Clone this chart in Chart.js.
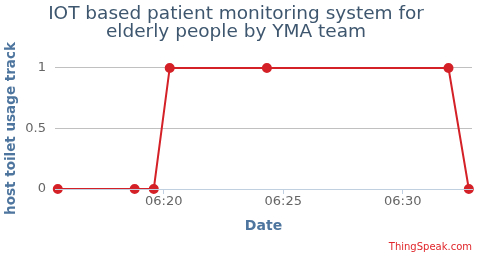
<!DOCTYPE html>
<html>
<head>
<meta charset="utf-8">
<script src="https://cdn.jsdelivr.net/npm/chart.js@4/dist/chart.umd.min.js"></script>
<style>
  html, body { margin: 0; padding: 0; background: #fff; }
  #wrap { position: relative; width: 480px; height: 256px; }
  #credit { position: absolute; right: 8px; top: 241px; font: 10px "DejaVu Sans", sans-serif; color: #e0262b; }
</style>
</head>
<body>
<div id="wrap">
  <canvas id="c" width="480" height="256"></canvas>
  <div id="credit">ThingSpeak.com</div>
</div>
<script>
const titleLines = ["IOT based patient monitoring system for", "elderly people by YMA team"];
const yAxisTitle = "host toilet usage track";
const xAxisTitle = "Date";
const times = ["06:15:34", "06:18:47", "06:19:35", "06:20:15", "06:24:19", "06:31:55", "06:32:46"];
const values = [0, 0, 0, 1, 1, 1, 0];
const xRange = ["06:15:27", "06:32:54"];
const yTicks = [0, 0.5, 1];

function toMin(t) {
  const p = t.split(":").map(Number);
  return p[0] * 60 + p[1] + (p[2] || 0) / 60;
}
function fmt(m) {
  const h = Math.floor(m / 60), mm = Math.round(m % 60);
  return String(h).padStart(2, "0") + ":" + String(mm).padStart(2, "0");
}

const pts = times.map((t, i) => ({ x: toMin(t), y: values[i] }));

new Chart(document.getElementById("c"), {
  type: "line",
  data: {
    datasets: [{
      data: pts,
      borderColor: "#d42027",
      backgroundColor: "#d42027",
      borderWidth: 2,
      pointRadius: 4,
      pointHoverRadius: 4,
      tension: 0,
      clip: false
    }]
  },
  options: {
    responsive: false,
    animation: false,
    layout: { padding: { left: 0, right: 8, top: 0, bottom: 21.6 } },
    plugins: {
      legend: { display: false },
      tooltip: { enabled: false },
      title: {
        display: true,
        text: titleLines,
        color: "#3E576F",
        font: { family: "'DejaVu Sans', sans-serif", size: 18.5, weight: "normal", lineHeight: 0.98 },
        padding: { top: 5.4, bottom: 26.3 }
      }
    },
    scales: {
      x: {
        type: "linear",
        min: toMin(xRange[0]),
        max: toMin(xRange[1]),
        afterBuildTicks: (s) => {
          const t = [];
          for (let v = Math.ceil(s.min / 5) * 5; v <= s.max; v += 5) t.push({ value: v });
          s.ticks = t;
        },
        grid: { display: true, drawOnChartArea: false, color: "#C0D0E0", tickLength: 5, tickColor: "#C0D0E0" },
        border: { display: true, color: "#C0D0E0", width: 1, z: 1 },
        ticks: {
          color: "#666",
          font: { family: "'DejaVu Sans', sans-serif", size: 13 },
          padding: 0,
          maxRotation: 0,
          callback: (v) => fmt(v)
        },
        title: {
          display: true,
          text: xAxisTitle,
          color: "#4d759e",
          font: { family: "'DejaVu Sans', sans-serif", size: 14, weight: "bold" },
          padding: { top: 8, bottom: 0 }
        }
      },
      y: {
        min: 0,
        max: 1,
        afterBuildTicks: (s) => { s.ticks = yTicks.map(v => ({ value: v })); },
        afterFit: (s) => { s.width = 55; },
        grid: {
          color: (ctx) => (ctx.tick && ctx.tick.value === 0) ? "rgba(0,0,0,0)" : "#C0C0C0",
          drawTicks: false,
          lineWidth: 1
        },
        border: { display: false },
        ticks: {
          color: "#666",
          font: { family: "'DejaVu Sans', sans-serif", size: 13 },
          padding: 9,
          callback: (v) => String(v)
        },
        title: {
          display: true,
          text: yAxisTitle,
          color: "#4d759e",
          font: { family: "'DejaVu Sans', sans-serif", size: 13.5, weight: "bold" },
          padding: { top: 3, bottom: 0 }
        }
      }
    }
  }
});
</script>
</body>
</html>
